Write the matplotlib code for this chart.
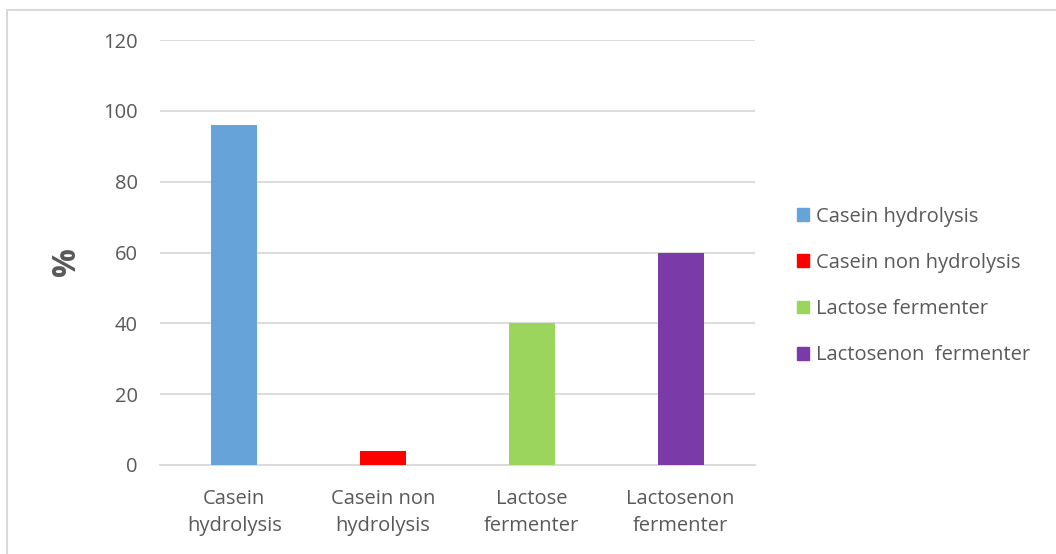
import matplotlib
matplotlib.use("Agg")
import matplotlib.pyplot as plt
from matplotlib.patches import Rectangle, Patch

categories = ["Casein\nhydrolysis", "Casein non\nhydrolysis", "Lactose\nfermenter", "Lactosenon\nfermenter"]
series_names = ["Casein hydrolysis", "Casein non hydrolysis", "Lactose fermenter", "Lactosenon  fermenter"]
values = [96, 4, 40, 60]
colors = ["#66A3D9", "#FF0000", "#9BD55E", "#7A3AA8"]
yticks = [0, 20, 40, 60, 80, 100, 120]

plt.rcParams["font.family"] = ["Open Sans", "DejaVu Sans"]
TXT = "#595959"
FS = 14.5

fig = plt.figure(figsize=(10.56, 5.54), dpi=100)
fig.patches.append(Rectangle((7 / 1056, -0.1), 1.2, (554 - 10) / 554 + 0.1, transform=fig.transFigure,
                             fill=False, edgecolor="#D9D9D9", linewidth=1.5))
ax = fig.add_axes([160 / 1056, 89 / 554, 595 / 1056, 425 / 554])

x = range(len(values))
ax.bar(x, values, width=0.31, color=colors, zorder=3)
ax.set_xlim(-0.5, 3.5)
ax.set_ylim(0, 120)
ax.set_yticks(yticks)
ax.grid(axis="y", color="#D9D9D9", linewidth=1.3, zorder=0)
for s in ["top", "right", "left"]:
    ax.spines[s].set_visible(False)
ax.spines["bottom"].set_color("#D9D9D9")
ax.spines["bottom"].set_linewidth(1.3)
ax.set_xticks(list(x))
ax.set_xticklabels(categories, fontsize=FS, color=TXT, linespacing=1.5)
ax.tick_params(axis="both", length=0, colors=TXT, labelsize=FS)
ax.tick_params(axis="x", pad=17)
ax.tick_params(axis="y", pad=16)
fig.text(66 / 1056, 1 - 262 / 554, "%", rotation=90, ha="center", va="center",
         fontsize=23, fontweight="bold", color=TXT)

handles = [Patch(color=c, label=n) for c, n in zip(colors, series_names)]
fig.legend(handles=handles, loc="center left", bbox_to_anchor=(779 / 1056, 1 - 286 / 554),
           frameon=False, fontsize=FS, labelcolor=TXT, handlelength=0.6, handleheight=0.6,
           handletextpad=0.35, labelspacing=1.3)

plt.savefig("out.png", dpi=100)
